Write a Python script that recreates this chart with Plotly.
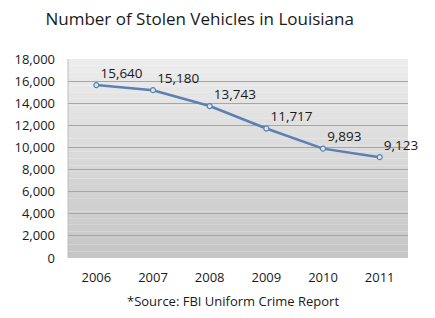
import plotly.graph_objects as go

years = ["2006", "2007", "2008", "2009", "2010", "2011"]
stolen = [15640, 15180, 13743, 11717, 9893, 9123]
labels = ["15,640", "15,180", "13,743", "11,717", "9,893", "9,123"]
yticks = [0, 2000, 4000, 6000, 8000, 10000, 12000, 14000, 16000, 18000]

FONT = "Open Sans"

fig = go.Figure()
fig.add_trace(go.Scatter(
    x=years, y=stolen, mode="lines+markers+text",
    text=labels, textposition="top right",
    textfont=dict(family=FONT, size=13.5, color="#1a1a1a"),
    line=dict(color="#5b80b4", width=2.5),
    marker=dict(size=5, color="#dfe6f0", line=dict(color="#5b80b4", width=1.2)),
    cliponaxis=False, showlegend=False,
))

# vertical gradient background of plot area
n = 30
top = (236, 236, 236)
bot = (198, 198, 198)
shapes = []
for i in range(n):
    t = i / (n - 1)
    c = tuple(int(round(top[k] + (bot[k] - top[k]) * t)) for k in range(3))
    shapes.append(dict(type="rect", xref="x domain", yref="y domain",
                       x0=0, x1=1, y0=1 - (i + 1) / n, y1=1 - i / n,
                       fillcolor="rgb(%d,%d,%d)" % c, line=dict(width=0),
                       layer="below"))
shapes.append(dict(type="line", xref="x domain", yref="y domain",
                   x0=0, x1=0, y0=0, y1=1, line=dict(color="#bdbdbd", width=1)))

fig.update_layout(
    width=435, height=318,
    margin=dict(l=68, r=27, t=59, b=60),
    paper_bgcolor="white", plot_bgcolor="rgba(0,0,0,0)",
    shapes=shapes,
    title=dict(text="Number of Stolen Vehicles in Louisiana",
               font=dict(family=FONT, size=17, color="#1a1a1a"),
               x=0.459, xanchor="center", y=0.94, yanchor="middle"),
    xaxis=dict(type="category", range=[-0.5, 5.5], showgrid=False,
               tickfont=dict(family=FONT, size=13, color="#1a1a1a"),
               ticks="", showline=False, zeroline=False, ticklabelstandoff=10),
    yaxis=dict(range=[0, 18000], tickvals=yticks, tickformat=",d",
               showgrid=True, gridcolor="#a6a6a6", gridwidth=1,
               tickfont=dict(family=FONT, size=13, color="#1a1a1a"),
               ticks="", zeroline=False, showline=False, ticklabelstandoff=12),
    annotations=[dict(text="*Source: FBI Uniform Crime Report",
                      xref="paper", yref="paper", x=0.485, y=-0.215,
                      xanchor="center", yanchor="middle", showarrow=False,
                      font=dict(family=FONT, size=13, color="#1a1a1a"))],
)

fig.write_html("out.html")
